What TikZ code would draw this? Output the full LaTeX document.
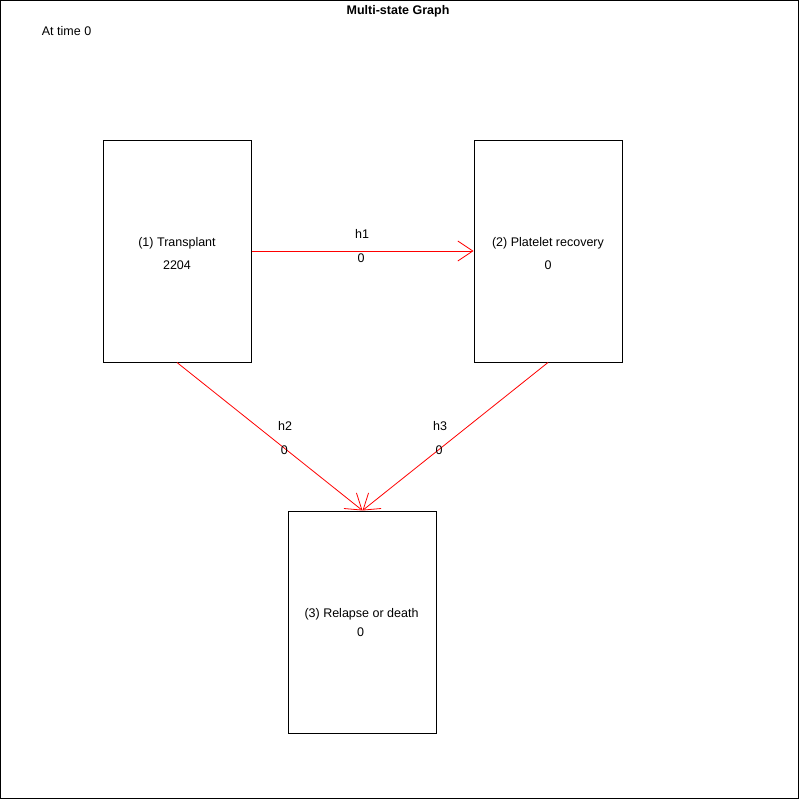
\documentclass[tikz,border=0pt]{standalone}
\usepackage{fontspec}
\setmainfont{Liberation Sans}
\usetikzlibrary{arrows.meta}
\tikzset{
  statebox/.style={draw=black, line width=1pt, minimum width=148pt, minimum height=222pt, inner sep=0pt},
  lbl/.style={inner sep=0pt, text height=9pt, text depth=0pt, font=\fontsize{12.5}{15}\selectfont},
  trans/.style={draw=red, line width=0.8pt, -{Straight Barb[length=15pt,width=20pt,line width=0.8pt]}}
}
\begin{document}
\begin{tikzpicture}[x=1pt,y=-1pt]
\useasboundingbox (0,0) rectangle (800,800);
\draw[line width=1pt] (0.8,0.8) rectangle (798.8,798.8);
\node[lbl, font=\fontsize{12.5}{15}\selectfont\bfseries] (title) at (398,10.5) {Multi-state Graph};
\node[lbl, anchor=west] (time) at (41.7,30.8) {At time 0};
\node[statebox] (b1) at (177,251) {};
\node[statebox] (b2) at (548,251) {};
\node[statebox] (b3) at (362.5,622) {};
\node[lbl] (t1) at (177,241.5) {(1) Transplant};
\node[lbl] (n1) at (177,265) {2204};
\node[lbl] (t2) at (548,241.5) {(2) Platelet recovery};
\node[lbl] (n2) at (548,265) {0};
\node[lbl] (t3) at (361.5,613) {(3) Relapse or death};
\node[lbl] (n3) at (360.5,632) {0};
\draw[trans] (b1.east) -- (b2.west);
\draw[trans] (b1.south) -- (b3.north);
\draw[trans] (b2.south) -- (b3.north);
\node[lbl] (h1) at (362,233.5) {h1};
\node[lbl] (h1n) at (361,257.5) {0};
\node[lbl] (h2) at (285,426) {h2};
\node[lbl] (h2n) at (284.3,449.7) {0};
\node[lbl] (h3) at (440,426) {h3};
\node[lbl] (h3n) at (439,449.7) {0};
\end{tikzpicture}
\end{document}
